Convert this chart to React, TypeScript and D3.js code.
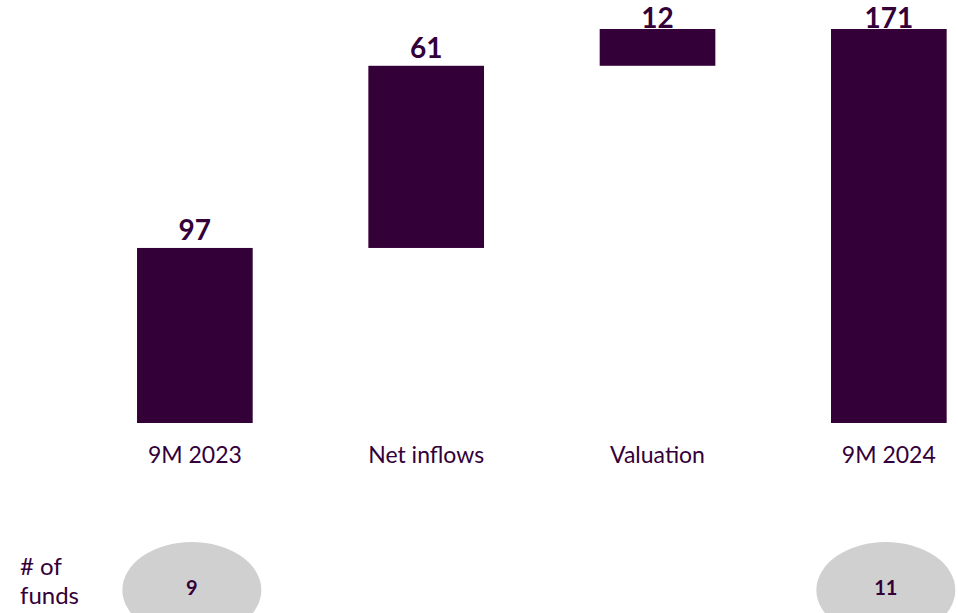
import React from "react";
import * as d3 from "d3";

// waterfall: start, flows, end
const categories = ["9M 2023", "Net inflows", "Valuation", "9M 2024"];
const kinds = ["total", "delta", "delta", "total"];
const amounts = [97.2, 61.4, 12.4, 171.0];
const fundCounts = [9, null, null, 11];
const axisFloor = 38.2;

const W = 958;
const H = 613;
const barColor = "#330037";
const textColor = "#33003a";
const font = "Lato, 'Open Sans', sans-serif";

const App = () => {
  const x = d3
    .scaleBand<string>()
    .domain(categories)
    .range([79.2, 1004.5])
    .paddingInner(0.5)
    .paddingOuter(0.25);

  const y = d3.scaleLinear().domain([axisFloor, 171]).range([423, 29]);

  let running = 0;
  const bars = categories.map((c, i) => {
    let lo: number, hi: number;
    if (kinds[i] === "total") {
      lo = axisFloor;
      hi = amounts[i];
      running = amounts[i];
    } else {
      lo = running;
      hi = running + amounts[i];
      running = hi;
    }
    return { c, lo, hi, v: amounts[i] };
  });

  const fmt = d3.format(".0f");

  return (
    <svg
      width={W}
      height={H}
      style={{ position: "absolute", left: 0, top: 0, fontFamily: font }}
    >
      {bars.map((b) => {
        const x0 = x(b.c)!;
        const cx = x0 + x.bandwidth() / 2;
        const top = y(b.hi);
        return (
          <g key={b.c}>
            <rect
              x={x0}
              y={top}
              width={x.bandwidth()}
              height={y(b.lo) - top}
              fill={barColor}
            />
            <text
              x={cx}
              y={Math.max(top - 8, 28)}
              textAnchor="middle"
              fontWeight="bold"
              fontSize={28}
              fill={textColor}
            >
              {fmt(b.v)}
            </text>
            <text
              x={cx}
              y={463}
              textAnchor="middle"
              fontSize={23}
              fill={textColor}
            >
              {b.c}
            </text>
          </g>
        );
      })}

      <text x={20} y={575} fontSize={24} fill={textColor}>
        # of
      </text>
      <text x={20} y={604} fontSize={24} fill={textColor}>
        funds
      </text>

      {categories.map((c, i) => {
        const n = fundCounts[i];
        if (n == null) return null;
        const cx = x(c)! + x.bandwidth() / 2 - 3;
        return (
          <g key={"f" + c}>
            <ellipse cx={cx} cy={590} rx={69.5} ry={48} fill="#d0d0d0" />
            <text
              x={cx}
              y={595}
              textAnchor="middle"
              fontWeight="bold"
              fontSize={20}
              fill={textColor}
            >
              {n}
            </text>
          </g>
        );
      })}
    </svg>
  );
};

export default App;
